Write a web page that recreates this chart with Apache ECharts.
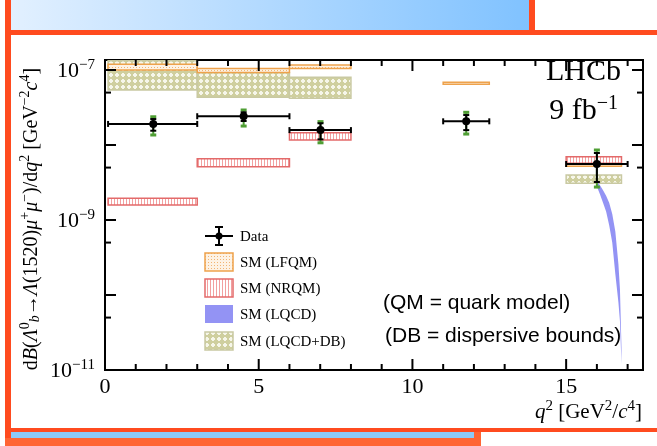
<!DOCTYPE html>
<html>
<head>
<meta charset="utf-8">
<script src="https://cdn.jsdelivr.net/npm/echarts@6/dist/echarts.min.js"></script>
<style>html,body{margin:0;padding:0;background:#fff}#chart{width:657px;height:446px}</style>
</head>
<body>
<div id="chart"></div>
<script>
// measured data, q2 bins
var dataBinLo = [0.1, 3, 6, 11, 15];
var dataBinHi = [3, 6, 8, 12.5, 17];
var dataX = [1.57, 4.51, 7.01, 11.75, 16.0];
var dataY = [1.91e-8, 2.42e-8, 1.58e-8, 2.07e-8, 5.58e-9];
var statLo = [1.55e-8, 2.09e-8, 1.19e-8, 1.58e-8, 3.21e-9];
var statHi = [2.22e-8, 2.73e-8, 1.95e-8, 2.51e-8, 7.82e-9];
var totLo = [1.36e-8, 1.79e-8, 1.07e-8, 1.40e-8, 2.75e-9];
var totHi = [2.38e-8, 2.93e-8, 2.05e-8, 2.73e-8, 8.58e-9];

// SM (LFQM)
var lfqmX0 = [0.1, 3, 6, 11, 15];
var lfqmX1 = [3, 6, 8, 12.5, 16.8];
var lfqmLo = [1.0e-7, 9.3e-8, 1.05e-7, 6.45e-8, 5.2e-9];
var lfqmHi = [1.19e-7, 1.05e-7, 1.17e-7, 6.85e-8, 5.55e-9];

// SM (NRQM) and SM (LQCD+DB)
var smX0 = [0.1, 3, 6, 15];
var smX1 = [3, 6, 8, 16.8];
var nrqmLo = [1.58e-9, 5.14e-9, 1.17e-8, 5.7e-9];
var nrqmHi = [1.95e-9, 6.57e-9, 1.46e-8, 6.98e-9];
var dbLo = [5.4e-8, 4.33e-8, 4.2e-8, 3.08e-9];
var dbHi = [1.33e-7, 9.2e-8, 8.0e-8, 3.98e-9];

// SM (LQCD) band
var lqcdX = [16.0, 16.1, 16.2, 16.3, 16.4, 16.5, 16.6, 16.7, 16.75, 16.8];
var lqcdLow = [2.8e-9, 2.2e-9, 1.7e-9, 1.3e-9, 8.5e-10, 5e-10, 1.9e-10, 8e-11, 4.5e-11, 1.2e-11];
var lqcdUp = [3.3e-9, 2.9e-9, 2.5e-9, 2.1e-9, 1.7e-9, 1.2e-9, 7e-10, 2.6e-10, 1.2e-10, 2e-11];

// axes
var xMin = 0, xMax = 17.5;
var yMin = 1e-11, yMax = 1.36e-7;
var xMajorTicks = [0, 5, 10, 15];
var xMinorTicks = [1, 2, 3, 4, 6, 7, 8, 9, 11, 12, 13, 14, 16, 17];
var yMajorTicks = [1e-11, 1e-10, 1e-9, 1e-8, 1e-7];
var yMinorTicks = [5e-11, 5e-10, 5e-9, 5e-8];
var yLabelValues = [1e-11, 1e-9, 1e-7];
var yLabelExps = ['\u221211', '\u22129', '\u22127'];

var serif = '"Liberation Serif", "DejaVu Serif", serif';
var sans = '"Liberation Sans", Arial, sans-serif';

function pattern(w, h, bg, draw) {
    var c = document.createElement('canvas');
    c.width = w; c.height = h;
    var ctx = c.getContext('2d');
    ctx.fillStyle = bg;
    ctx.fillRect(0, 0, w, h);
    draw(ctx);
    return {image: c, repeat: 'repeat'};
}
var lfqmFill = pattern(3, 3, '#fdf2e4', function (c) { c.fillStyle = '#f2b472'; c.fillRect(1, 1, 1, 1); });
var nrqmFill = pattern(3, 3, '#ffffff', function (c) { c.fillStyle = '#f2a0a0'; c.fillRect(0, 0, 1, 3); });
var dbFill = pattern(6, 6, '#cfcf9f', function (c) { c.fillStyle = '#f6f6ea'; c.fillRect(2, 1, 2, 4); c.fillRect(1, 2, 4, 2); });
var lfqmLine = '#eea24c', nrqmLine = '#e36a6a', dbLine = '#c9c9a2', lqcdColor = '#9393f4', green = '#4f9e34';

function bandSeries(name, x0, x1, lo, hi, fill, stroke, z) {
    return {
        type: 'custom', name: name, z: z, silent: true, clip: true,
        data: lo.map(function (v, i) { return [x0[i], x1[i], v, hi[i]]; }),
        encode: {x: [0, 1], y: [2, 3]},
        renderItem: function (params, api) {
            var a = api.coord([api.value(0), api.value(3)]);
            var b = api.coord([api.value(1), api.value(2)]);
            return {type: 'rect', shape: {x: a[0], y: a[1], width: b[0] - a[0], height: b[1] - a[1]},
                style: {fill: fill, stroke: stroke, lineWidth: 1.5}};
        }
    };
}

function line(x1, y1, x2, y2, color, w) {
    return {type: 'line', shape: {x1: x1, y1: y1, x2: x2, y2: y2}, style: {stroke: color, lineWidth: w}};
}

var chart = echarts.init(document.getElementById('chart'));

var option = {
    animation: false,
    backgroundColor: '#fff',
    grid: {left: 105, right: 14, top: 60, bottom: 76, show: true, borderColor: '#000', borderWidth: 2, backgroundColor: 'transparent'},
    xAxis: {
        type: 'value', min: xMin, max: xMax, interval: 5,
        axisLine: {show: false}, axisTick: {show: false}, splitLine: {show: false},
        axisLabel: {fontFamily: serif, fontSize: 22, color: '#000', margin: 6,
            formatter: function (v) { return v % 5 === 0 ? String(v) : ''; }}
    },
    yAxis: {
        type: 'log', logBase: 10, min: yMin, max: yMax,
        axisLine: {show: false}, axisTick: {show: false}, splitLine: {show: false}, axisLabel: {show: false}
    },
    series: [
        bandSeries('SM (LQCD+DB)', smX0, smX1, dbLo, dbHi, dbFill, dbLine, 1),
        bandSeries('SM (LFQM)', lfqmX0, lfqmX1, lfqmLo, lfqmHi, lfqmFill, lfqmLine, 2),
        bandSeries('SM (NRQM)', smX0, smX1, nrqmLo, nrqmHi, nrqmFill, nrqmLine, 3),
        {
            type: 'custom', name: 'SM (LQCD)', z: 4, silent: true, clip: true,
            data: [[lqcdX[0], lqcdUp[0]]],
            renderItem: function (params, api) {
                var pts = lqcdX.map(function (x, i) { return api.coord([x, lqcdUp[i]]); });
                for (var i = lqcdX.length - 1; i >= 0; i--) pts.push(api.coord([lqcdX[i], lqcdLow[i]]));
                return {type: 'polygon', shape: {points: pts}, style: {fill: lqcdColor}};
            }
        },
        {
            type: 'custom', name: 'Data', z: 5, silent: true,
            data: dataX.map(function (x, i) {
                return [x, dataY[i], dataBinLo[i], dataBinHi[i], statLo[i], statHi[i], totLo[i], totHi[i]];
            }),
            encode: {x: 0, y: 1},
            renderItem: function (params, api) {
                var c = api.coord([api.value(0), api.value(1)]);
                var l = api.coord([api.value(2), api.value(1)]);
                var r = api.coord([api.value(3), api.value(1)]);
                var sl = api.coord([api.value(0), api.value(4)]);
                var sh = api.coord([api.value(0), api.value(5)]);
                var tl = api.coord([api.value(0), api.value(6)]);
                var th = api.coord([api.value(0), api.value(7)]);
                return {type: 'group', children: [
                    line(tl[0], tl[1], th[0], th[1], green, 2),
                    line(tl[0] - 3, tl[1], tl[0] + 3, tl[1], green, 3),
                    line(th[0] - 3, th[1], th[0] + 3, th[1], green, 3),
                    line(l[0], c[1], r[0], c[1], '#000', 2),
                    line(l[0], c[1] - 3, l[0], c[1] + 3, '#000', 2),
                    line(r[0], c[1] - 3, r[0], c[1] + 3, '#000', 2),
                    line(sl[0], sl[1], sh[0], sh[1], '#000', 2),
                    line(sl[0] - 3, sl[1], sl[0] + 3, sl[1], '#000', 2),
                    line(sh[0] - 3, sh[1], sh[0] + 3, sh[1], '#000', 2),
                    {type: 'circle', shape: {cx: c[0], cy: c[1], r: 4}, style: {fill: '#000'}}
                ]};
            }
        },
        {
            type: 'custom', name: 'xticks', z: 6, silent: true,
            data: xMajorTicks.map(function (v) { return [v, yMin, 11]; })
                .concat(xMinorTicks.map(function (v) { return [v, yMin, 6]; })),
            renderItem: function (params, api) {
                var len = api.value(2);
                var b = api.coord([api.value(0), yMin]);
                var t = api.coord([api.value(0), yMax]);
                return {type: 'group', children: [
                    line(b[0], b[1], b[0], b[1] - len, '#000', 2),
                    line(t[0], t[1], t[0], t[1] + len, '#000', 2)
                ]};
            }
        },
        {
            type: 'custom', name: 'yticks', z: 6, silent: true,
            data: yMajorTicks.map(function (v) { return [xMin, v, 11]; })
                .concat(yMinorTicks.map(function (v) { return [xMin, v, 6]; })),
            renderItem: function (params, api) {
                var len = api.value(2);
                var a = api.coord([xMin, api.value(1)]);
                var b = api.coord([xMax, api.value(1)]);
                return {type: 'group', children: [
                    line(a[0], a[1], a[0] + len, a[1], '#000', 2),
                    line(b[0], b[1], b[0] - len, b[1], '#000', 2)
                ]};
            }
        },
        {
            type: 'custom', name: 'ylabels', z: 6, silent: true,
            data: yLabelValues.map(function (v, i) { return [xMin, v, i]; }),
            renderItem: function (params, api) {
                var a = api.coord([xMin, api.value(1)]);
                return {type: 'text', x: a[0] - 10, y: a[1], style: {
                    text: '{b|10}{s|' + yLabelExps[api.value(2)] + '}',
                    align: 'right', verticalAlign: 'middle',
                    rich: {
                        b: {fontFamily: serif, fontSize: 22, lineHeight: 24, fill: '#000', verticalAlign: 'bottom'},
                        s: {fontFamily: serif, fontSize: 15, lineHeight: 15, fill: '#000', verticalAlign: 'top'}
                    }
                }};
            }
        }
    ],
    graphic: [
        // page decoration
        {type: 'rect', shape: {x: 5, y: 0, width: 6, height: 446}, style: {fill: '#ff4b1f'}, silent: true},
        {type: 'rect', shape: {x: 11, y: 0, width: 518, height: 30}, style: {fill: {type: 'linear', x: 0, y: 0, x2: 1, y2: 0,
            colorStops: [{offset: 0, color: '#e2f0ff'}, {offset: 1, color: '#80c2ff'}]}}, silent: true},
        {type: 'rect', shape: {x: 529, y: 0, width: 6, height: 35}, style: {fill: '#ff4b1f'}, silent: true},
        {type: 'rect', shape: {x: 5, y: 30, width: 652, height: 5}, style: {fill: '#ff4b1f'}, silent: true},
        {type: 'rect', shape: {x: 5, y: 428, width: 652, height: 4}, style: {fill: '#ff4b1f'}, silent: true},
        {type: 'rect', shape: {x: 11, y: 432, width: 463, height: 6}, style: {fill: '#8ccaf8'}, silent: true},
        {type: 'rect', shape: {x: 5, y: 438, width: 476, height: 8}, style: {fill: '#ff6534'}, silent: true},
        {type: 'rect', shape: {x: 474, y: 432, width: 7, height: 14}, style: {fill: '#ff6534'}, silent: true},
        // titles
        {type: 'text', x: 30, y: 219, rotation: Math.PI / 2, silent: true, style: {
            text: '{n|d}{i|B}{n|(}{i|\u039B}{sp|0}{sb|b}{n|\u2192}{i|\u039B}{n|(1520)}{i|\u03BC}{sp|+}{i|\u03BC}{sp|\u2212}{n|)/d}{i|q}{sp|2}{n| [GeV}{sp|\u22122}{i|c}{sp|4}{n|]}',
            align: 'center', verticalAlign: 'middle', textAlign: 'center', textVerticalAlign: 'middle',
            rich: {
                n: {fontFamily: serif, fontSize: 20, lineHeight: 24, fill: '#000', verticalAlign: 'bottom'},
                i: {fontFamily: serif, fontSize: 20, fontStyle: 'italic', lineHeight: 24, fill: '#000', verticalAlign: 'bottom'},
                sp: {fontFamily: serif, fontSize: 14, lineHeight: 14, fill: '#000', verticalAlign: 'top'},
                sb: {fontFamily: serif, fontSize: 14, fontStyle: 'italic', lineHeight: 12, fill: '#000', verticalAlign: 'bottom'}
            }
        }},
        {type: 'text', x: 642, y: 411, silent: true, style: {
            text: '{i|q}{s|2}{n| [GeV}{s|2}{n|/}{i|c}{s|4}{n|]}',
            align: 'right', verticalAlign: 'middle', textAlign: 'right', textVerticalAlign: 'middle',
            rich: {
                n: {fontFamily: serif, fontSize: 21, lineHeight: 24, fill: '#000', verticalAlign: 'bottom'},
                i: {fontFamily: serif, fontSize: 21, fontStyle: 'italic', lineHeight: 24, fill: '#000', verticalAlign: 'bottom'},
                s: {fontFamily: serif, fontSize: 15, lineHeight: 15, fill: '#000', verticalAlign: 'top'}
            }
        }},
        {type: 'text', x: 621, y: 72, silent: true, style: {text: 'LHCb', font: '30px ' + serif, fill: '#000',
            align: 'right', verticalAlign: 'middle', textAlign: 'right', textVerticalAlign: 'middle'}},
        {type: 'text', x: 618, y: 110, silent: true, style: {
            text: '{n|9 fb}{s|\u22121}', align: 'right', verticalAlign: 'middle', textAlign: 'right', textVerticalAlign: 'middle',
            rich: {
                n: {fontFamily: serif, fontSize: 30, lineHeight: 32, fill: '#000', verticalAlign: 'bottom'},
                s: {fontFamily: serif, fontSize: 20, lineHeight: 20, fill: '#000', verticalAlign: 'top'}
            }
        }},
        {type: 'text', x: 383, y: 303, silent: true, style: {text: '(QM = quark model)', font: '21px ' + sans, fill: '#000',
            align: 'left', verticalAlign: 'middle', textAlign: 'left', textVerticalAlign: 'middle'}},
        {type: 'text', x: 385, y: 336, silent: true, style: {text: '(DB = dispersive bounds)', font: '21px ' + sans, fill: '#000',
            align: 'left', verticalAlign: 'middle', textAlign: 'left', textVerticalAlign: 'middle'}},
        // legend
        {type: 'group', silent: true, children: [
            line(205, 236, 233, 236, '#000', 2),
            line(219, 227, 219, 245, '#000', 2),
            line(215, 227, 223, 227, '#000', 2),
            line(215, 245, 223, 245, '#000', 2),
            {type: 'circle', shape: {cx: 219, cy: 236, r: 3.5}, style: {fill: '#000'}},
            {type: 'rect', shape: {x: 205, y: 253, width: 28, height: 18}, style: {fill: lfqmFill, stroke: lfqmLine, lineWidth: 1.5}},
            {type: 'rect', shape: {x: 205, y: 279, width: 28, height: 18}, style: {fill: nrqmFill, stroke: nrqmLine, lineWidth: 1.5}},
            {type: 'rect', shape: {x: 205, y: 305, width: 28, height: 18}, style: {fill: lqcdColor}},
            {type: 'rect', shape: {x: 205, y: 332, width: 28, height: 18}, style: {fill: dbFill, stroke: dbLine, lineWidth: 1.5}},
            {type: 'text', x: 240, y: 237, style: {text: 'Data', font: '15px ' + serif, fill: '#000', verticalAlign: 'middle', textVerticalAlign: 'middle'}},
            {type: 'text', x: 240, y: 263, style: {text: 'SM (LFQM)', font: '15px ' + serif, fill: '#000', verticalAlign: 'middle', textVerticalAlign: 'middle'}},
            {type: 'text', x: 240, y: 289, style: {text: 'SM (NRQM)', font: '15px ' + serif, fill: '#000', verticalAlign: 'middle', textVerticalAlign: 'middle'}},
            {type: 'text', x: 240, y: 315, style: {text: 'SM (LQCD)', font: '15px ' + serif, fill: '#000', verticalAlign: 'middle', textVerticalAlign: 'middle'}},
            {type: 'text', x: 240, y: 342, style: {text: 'SM (LQCD+DB)', font: '15px ' + serif, fill: '#000', verticalAlign: 'middle', textVerticalAlign: 'middle'}}
        ]}
    ]
};

chart.setOption(option);
</script>
</body>
</html>
